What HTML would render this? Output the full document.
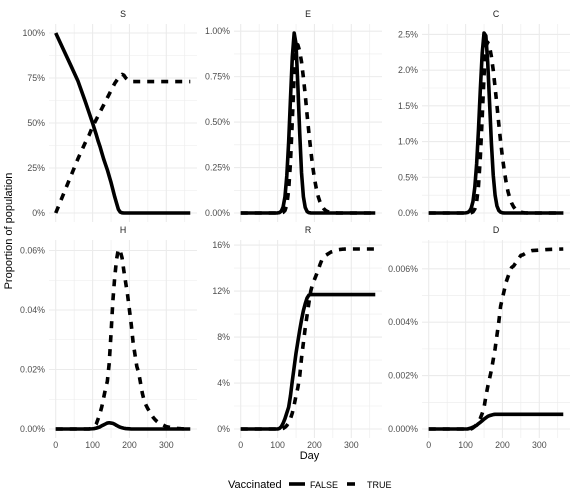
<!DOCTYPE html>
<html><head><meta charset="utf-8">
<style>
html,body{margin:0;padding:0;background:#fff;}
svg{display:block;font-family:"Liberation Sans",Arial,sans-serif;}
</style></head>
<body>
<svg id="chart" width="576" height="504" viewBox="0 0 576 504" xmlns="http://www.w3.org/2000/svg">
<text x="12" y="231" transform="rotate(-90 12 231)" text-anchor="middle" font-size="11" fill="#000">Proportion of population</text>
<text x="309.5" y="459" text-anchor="middle" font-size="11" fill="#000">Day</text>
<g>
<text x="228" y="488" font-size="11" fill="#000">Vaccinated</text>
<line x1="289" y1="484" x2="305" y2="484" stroke="#000" stroke-width="3.6"/>
<text x="310" y="488" font-size="9" fill="#000">FALSE</text>
<line x1="347" y1="484" x2="355" y2="484" stroke="#000" stroke-width="3.6"/>
<text x="367" y="488" font-size="9" fill="#000">TRUE</text>
</g>
</svg>
<script>
const days = [0,20,40,60,80,90,100,105,110,115,120,125,130,135,140,145,150,155,160,165,170,175,180,185,190,195,200,205,210,215,220,225,230,235,240,245,250,255,260,265,270,275,280,300,320,340,365];
const panelNames = ["S","E","C","H","R","D"];
const S_false = [100,91.2,82.4,73.5,62,56,50,46.7,43.5,40,37,33.5,30,27,24,20.5,17,13,9,5.5,2,0.5,0.1,0,0,0,0,0,0,0,0,0,0,0,0,0,0,0,0,0,0,0,0,0,0,0,0];
const S_true = [0,10,20,30,39,43,48,50,52,54,56,58,60,62,64,66,68,70,72,73.5,75,76,77,76.5,75,74,73.5,73.2,73,73,73,73,73,73,73,73,73,73,73,73,73,73,73,73,73,73,73];
const E_false = [0,0,0,0,0,0,0.0006,0.0025,0.010,0.033,0.089,0.204,0.39,0.63,0.86,0.99,0.93,0.70,0.44,0.22,0.09,0.03,0.008,0.002,0.0005,0,0,0,0,0,0,0,0,0,0,0,0,0,0,0,0,0,0,0,0,0,0];
const E_true = [0,0,0,0,0,0,0,0.0001,0.0006,0.0032,0.0135,0.045,0.126,0.28,0.51,0.76,0.91,0.925,0.89,0.83,0.745,0.65,0.54,0.44,0.345,0.26,0.19,0.135,0.092,0.061,0.039,0.024,0.014,0.0083,0.0046,0.0025,0.0013,0.0006,0.0003,0,0,0,0,0,0,0,0];
const C_false = [0,0,0,0,0,0,0.0017,0.0065,0.022,0.063,0.16,0.36,0.69,1.17,1.73,2.23,2.52,2.48,2.11,1.55,0.98,0.53,0.25,0.10,0.036,0.011,0.003,0.001,0,0,0,0,0,0,0,0,0,0,0,0,0,0,0,0,0,0,0];
const C_true = [0,0,0,0,0,0,0,0.0001,0.0008,0.0039,0.016,0.055,0.158,0.38,0.78,1.33,1.92,2.33,2.39,2.33,2.19,2.0,1.76,1.51,1.25,1.0,0.78,0.59,0.43,0.30,0.207,0.137,0.088,0.055,0.033,0.019,0.011,0.006,0.003,0.0016,0.0008,0.0004,0.0002,0,0,0,0];
const H_false = [0,0,0,0,0,0,0.00008,0.00015,0.0003,0.0005,0.0007,0.0011,0.0014,0.0017,0.002,0.0021,0.002,0.0019,0.0016,0.0012,0.0009,0.0006,0.0004,0.00025,0.00015,0.0001,0.00005,0,0,0,0,0,0,0,0,0,0,0,0,0,0,0,0,0,0,0,0];
const H_true = [0,0,0,0,0,0,0.0003,0.0008,0.0017,0.0034,0.0052,0.0075,0.0105,0.0135,0.016,0.022,0.032,0.043,0.051,0.057,0.0605,0.0598,0.0575,0.053,0.049,0.045,0.040,0.035,0.029,0.025,0.021,0.019,0.0155,0.012,0.0095,0.008,0.0068,0.0058,0.0047,0.0038,0.0031,0.0025,0.002,0.0008,0.0003,0.0001,0];
const R_false = [0,0,0,0,0,0,0,0.05,0.2,0.5,0.9,1.4,1.9,2.9,4.2,5.4,6.6,7.6,8.6,9.5,10.3,10.9,11.4,11.65,11.7,11.7,11.7,11.7,11.7,11.7,11.7,11.7,11.7,11.7,11.7,11.7,11.7,11.7,11.7,11.7,11.7,11.7,11.7,11.7,11.7,11.7,11.7];
const R_true = [0,0,0,0,0,0,0,0,0,0.05,0.15,0.3,0.55,0.9,1.4,2.1,2.9,3.6,4.6,6.2,7.5,8.8,9.9,11.0,12.0,12.6,13.0,13.4,13.8,14.3,14.7,14.9,15.1,15.2,15.3,15.4,15.45,15.5,15.55,15.6,15.62,15.64,15.65,15.66,15.66,15.66,15.66];
const D_false = [0,0,0,0,0,0,0,0,0.00002,0.00004,0.00007,0.0001,0.00014,0.0002,0.00025,0.00031,0.00037,0.00042,0.00047,0.0005,0.00052,0.00054,0.00055,0.00055,0.00055,0.00055,0.00055,0.00055,0.00055,0.00055,0.00055,0.00055,0.00055,0.00055,0.00055,0.00055,0.00055,0.00055,0.00055,0.00055,0.00055,0.00055,0.00055,0.00055,0.00055,0.00055,0.00055];
const D_true = [0,0,0,0,0,0,0,0,0,0,0.00004,0.0001,0.00017,0.00027,0.0004,0.00058,0.0008,0.00122,0.00158,0.00189,0.0022,0.0026,0.0030,0.0035,0.0040,0.0046,0.0049,0.0052,0.0055,0.0057,0.0059,0.00605,0.0061,0.0062,0.0063,0.0064,0.0065,0.00652,0.00656,0.0066,0.00663,0.00666,0.00668,0.0067,0.00672,0.00673,0.00674];
const S_ticks = [0,25,50,75,100];
const S_tickLabels = ["0%","25%","50%","75%","100%"];
const E_ticks = [0,0.25,0.5,0.75,1.0];
const E_tickLabels = ["0.00%","0.25%","0.50%","0.75%","1.00%"];
const C_ticks = [0,0.5,1.0,1.5,2.0,2.5];
const C_tickLabels = ["0.0%","0.5%","1.0%","1.5%","2.0%","2.5%"];
const H_ticks = [0,0.02,0.04,0.06];
const H_tickLabels = ["0.00%","0.02%","0.04%","0.06%"];
const R_ticks = [0,4,8,12,16];
const R_tickLabels = ["0%","4%","8%","12%","16%"];
const D_ticks = [0,0.002,0.004,0.006];
const D_tickLabels = ["0.000%","0.002%","0.004%","0.006%"];
const xTicks = [0,100,200,300];
const xTickLabels = ["0","100","200","300"];

const NS = "http://www.w3.org/2000/svg";
const svg = document.getElementById("chart");
function mk(tag, attrs, parent){
  const e = document.createElementNS(NS, tag);
  for (const k in attrs) e.setAttribute(k, attrs[k]);
  parent.appendChild(e);
  return e;
}
const layout = [
  {x0:49,x1:197,y0:24,y1:222},{x0:234,x1:382,y0:24,y1:222},{x0:422,x1:570,y0:24,y1:222},
  {x0:49,x1:197,y0:240,y1:438},{x0:234,x1:382,y0:240,y1:438},{x0:422,x1:570,y0:240,y1:438}
];
const series = [[S_false,S_true],[E_false,E_true],[C_false,C_true],[H_false,H_true],[R_false,R_true],[D_false,D_true]];
const ticks = [S_ticks,E_ticks,C_ticks,H_ticks,R_ticks,D_ticks];
const tickLabels = [S_tickLabels,E_tickLabels,C_tickLabels,H_tickLabels,R_tickLabels,D_tickLabels];

panelNames.forEach((name, i) => {
  const L = layout[i];
  const g = mk("g", {}, svg);
  
  
  const xmin = Math.min(...days), xmax = Math.max(...days), xr = xmax - xmin;
  const xs = d => L.x0 + (d - (xmin - 0.05*xr)) / (1.1*xr) * (L.x1 - L.x0);
  const all = series[i][0].concat(series[i][1]);
  const ymin = Math.min(...all), ymax = Math.max(...all), yr = ymax - ymin;
  const ys = v => L.y1 - (v - (ymin - 0.05*yr)) / (1.1*yr) * (L.y1 - L.y0);
  const tk = ticks[i];
  const step = tk[1] - tk[0];
  for (let k = -1; k < tk.length; k++) {
    const v = tk[0] + (k + 0.5) * step;
    const y = ys(v);
    if (y < L.y0 || y > L.y1) continue;
    const ln = mk("line", {x1:L.x0, x2:L.x1, y1:y, y2:y, stroke:"#ebebeb", "stroke-width":0.6}, g);
    
    
  }
  for (let k = -1; k < xTicks.length; k++) {
    const v = xTicks[0] + (k + 0.5) * 100;
    const x = xs(v);
    if (x < L.x0 || x > L.x1) continue;
    const ln = mk("line", {x1:x, x2:x, y1:L.y0, y2:L.y1, stroke:"#ebebeb", "stroke-width":0.6}, g);
    
    
  }
  tk.forEach((v, j) => {
    const y = ys(v);
    const ln = mk("line", {x1:L.x0, x2:L.x1, y1:y, y2:y, stroke:"#ebebeb", "stroke-width":1.1}, g);
    
    
    const t = mk("text", {x:L.x0 - 4, y:y + 3, "text-anchor":"end", "font-size":"8.8", fill:"#4d4d4d"}, g);
    t.textContent = tickLabels[i][j];
    
    
  });
  xTicks.forEach((v, j) => {
    const x = xs(v);
    const ln = mk("line", {x1:x, x2:x, y1:L.y0, y2:L.y1, stroke:"#ebebeb", "stroke-width":1.1}, g);
    
    
    if (i >= 3) {
      const t = mk("text", {x:x, y:L.y1 + 10, "text-anchor":"middle", "font-size":"8.8", fill:"#4d4d4d"}, g);
      t.textContent = xTickLabels[j];
      
      
    }
  });
  const st = mk("text", {x:(L.x0 + L.x1)/2, y:L.y0 - 7, "text-anchor":"middle", "font-size":"8.8", fill:"#1a1a1a"}, g);
  st.textContent = name;
  
  
  series[i].forEach((vals, s) => {
    const d = vals.map((v, k) => (k ? "L" : "M") + xs(days[k]).toFixed(2) + "," + ys(v).toFixed(2)).join("");
    const p = mk("path", {d:d, fill:"none", stroke:"#000", "stroke-width":3.6, "stroke-linejoin":"round"}, g);
    if (s === 1) p.setAttribute("stroke-dasharray", "7,7");
    
    
  });
});
</script>
</body></html>
